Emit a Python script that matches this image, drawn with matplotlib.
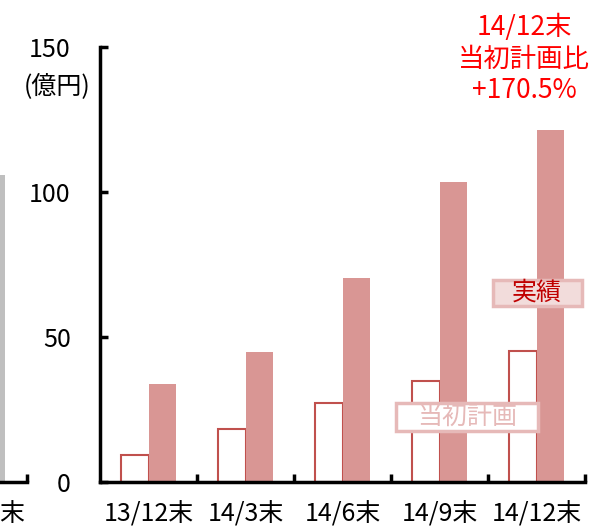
import matplotlib.pyplot as plt
from matplotlib.patches import Rectangle
import numpy as np

plt.rcParams['font.family'] = ['Noto Sans CJK JP', 'DejaVu Sans']

# データ
categories = ['13/12末', '14/3末', '14/6末', '14/9末', '14/12末']
plan = [9.3, 18.3, 27.2, 34.8, 45.2]       # 当初計画
actual = [33.8, 44.8, 70.3, 103.4, 121.4]  # 実績
prev_actual = 106  # 左端で切れている前のグラフの棒

W, H = 591, 530
fig = plt.figure(figsize=(W / 100, H / 100), dpi=100)

def px_axes(x0, x1, y0, y1):
    return fig.add_axes([x0 / W, 1 - y1 / H, (x1 - x0) / W, (y1 - y0) / H])

def px_box(x0, x1, y0, y1, fc, ec):
    fig.patches.append(Rectangle((x0 / W, 1 - y1 / H), (x1 - x0) / W, (y1 - y0) / H,
                                 transform=fig.transFigure, fc=fc, ec=ec, lw=2.5, zorder=5))

ax = px_axes(100, 585, 47, 482)
x = np.arange(len(categories))
bw = 0.28
ax.bar(x - 0.14, plan, bw, color='white', edgecolor='#c0504d', linewidth=1.5)
ax.bar(x + 0.14, actual, bw, color='#d99694', linewidth=0)

ax.set_xlim(-0.5, 4.5)
ax.set_ylim(0, 150)
ax.set_yticks([0, 50, 100, 150])
ax.tick_params(axis='y', direction='in', length=6, width=2.5, pad=21, labelsize=18)
ax.set_xticks(np.arange(0.5, 5, 1))
ax.set_xticklabels([])
ax.tick_params(axis='x', direction='in', length=6, width=2.5)
ax.set_xticks(x, minor=True)
ax.set_xticklabels(categories, minor=True, fontsize=18)
ax.tick_params(axis='x', which='minor', length=0, pad=14)
for s in ['top', 'right']:
    ax.spines[s].set_visible(False)
for s in ['left', 'bottom']:
    ax.spines[s].set_linewidth(2.5)

fig.text(91 / W, 1 - 87 / H, '(億円)', ha='right', va='center', fontsize=18)

# 注記
fig.text(524 / W, 1 - 59 / H, '14/12末\n当初計画比\n+170.5%', color='#ff0000',
         fontsize=19, ha='center', va='center', linespacing=1.22)

px_box(493, 582, 280, 306, '#f2dcdb', '#e6b9b8')
fig.text(537 / W, 1 - 293 / H, '実績', color='#c00000', fontsize=18,
         ha='center', va='center', zorder=6)
px_box(396, 538, 403, 431, 'white', '#e6b9b8')
fig.text(467 / W, 1 - 417 / H, '当初計画', color='#e6b9b8', fontsize=18,
         ha='center', va='center', zorder=6)

# 左側の切れたグラフ
ax2 = px_axes(-70, 27, 47, 482)
ax2.bar([0.62], [prev_actual], 0.3, color='#bfbfbf', linewidth=0)
ax2.set_xlim(0, 1)
ax2.set_ylim(0, 150)
ax2.set_yticks([])
ax2.set_xticks([1])
ax2.set_xticklabels([])
ax2.tick_params(axis='x', direction='in', length=6, width=2.5)
for s in ['top', 'right', 'left']:
    ax2.spines[s].set_visible(False)
ax2.spines['bottom'].set_linewidth(2.5)
fig.text(12 / W, 1 - 514 / H, '末', fontsize=18, ha='center', va='center')

plt.savefig('out.png', dpi=100)
